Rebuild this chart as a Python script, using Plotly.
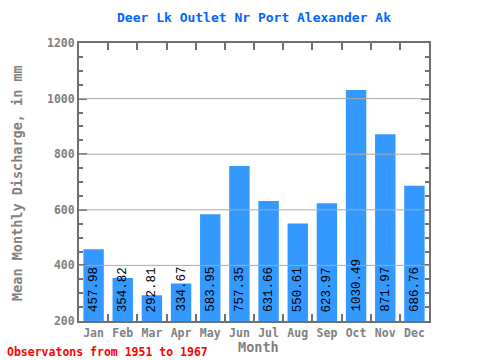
import plotly.graph_objects as go

months = ["Jan", "Feb", "Mar", "Apr", "May", "Jun", "Jul", "Aug", "Sep", "Oct", "Nov", "Dec"]
values = [457.98, 354.82, 292.81, 334.67, 583.95, 757.35, 631.66, 550.61, 623.97, 1030.49, 871.97, 686.76]
y_ticks = [200, 400, 600, 800, 1000, 1200]
grid_vals = [400, 600, 800, 1000]

AX = "#707070"
TXT = "#808080"
MONO = "DejaVu Sans Mono"

L, R, T, B = 79, 51, 43, 39
pw, ph = 480 - L - R, 360 - T - B

fig = go.Figure()
fig.add_trace(go.Bar(x=months, y=values, marker=dict(color="#3399ff", line=dict(width=0)),
                     width=0.7, hoverinfo="skip"))

annotations = []
for m, v in zip(months, values):
    annotations.append(dict(x=m, y=200, xref="x", yref="y", text=f"{v:.2f}", textangle=-90,
                            showarrow=False, yanchor="bottom", xanchor="center", yshift=7,
                            font=dict(family="Liberation Mono", size=12.5, color="black")))
annotations.append(dict(x=(5 - L) / pw, y=(360 - B - 352) / ph, xref="paper", yref="paper",
                        text="<b>Observatons from 1951 to 1967</b>",
                        showarrow=False, xanchor="left", yanchor="middle",
                        font=dict(family=MONO, size=11.5, color="#ff0000")))
annotations.append(dict(x=(258 - L) / pw, y=(360 - B - 347) / ph, xref="paper", yref="paper",
                        text="<b>Month</b>", showarrow=False, xanchor="center", yanchor="middle",
                        font=dict(family=MONO, size=13.5, color=TXT)))
annotations.append(dict(x=(17 - L) / pw, y=(360 - B - 183) / ph, xref="paper", yref="paper",
                        text="<b>Mean Monthly Discharge, in mm</b>", textangle=-90,
                        showarrow=False, xanchor="center", yanchor="middle",
                        font=dict(family=MONO, size=13.5, color=TXT)))

shapes = [dict(type="line", xref="paper", yref="y", x0=0, x1=1, y0=g, y1=g,
               line=dict(color="#aaaaaa", width=1), layer="above") for g in grid_vals]

fig.update_layout(
    width=480, height=360,
    margin=dict(l=L, r=R, t=T, b=B, pad=0, autoexpand=False),
    paper_bgcolor="white", plot_bgcolor="white",
    showlegend=False,
    title=dict(text="<b>Deer Lk Outlet Nr Port Alexander Ak</b>", x=254 / 480, xanchor="center",
               y=1 - 17 / 360, yanchor="middle", font=dict(family=MONO, size=13, color="#0066ff")),
    xaxis=dict(type="category", range=[-0.5, 11.5], showline=True, linecolor=AX, linewidth=2,
               mirror="allticks", ticks="inside", ticklen=7, tickcolor=AX, tickwidth=2,
               tickson="boundaries", showgrid=False, tickangle=0, automargin=False,
               tickfont=dict(family=MONO, size=11.5, color=TXT, weight="bold")),
    yaxis=dict(range=[200, 1200], tickvals=y_ticks, showline=True, linecolor=AX, linewidth=2,
               mirror="allticks", ticks="inside", ticklen=8, tickcolor=AX, tickwidth=2,
               showgrid=False, zeroline=False, automargin=False,
               minor=dict(dtick=50, ticks="inside", ticklen=4, tickcolor=AX, tickwidth=2, showgrid=False),
               tickfont=dict(family=MONO, size=11.5, color=TXT, weight="bold")),
    shapes=shapes,
    annotations=annotations,
)

fig.write_html("out.html", config={"displayModeBar": False},
               post_script="document.body.style.margin='0';document.body.style.overflow='hidden';")
